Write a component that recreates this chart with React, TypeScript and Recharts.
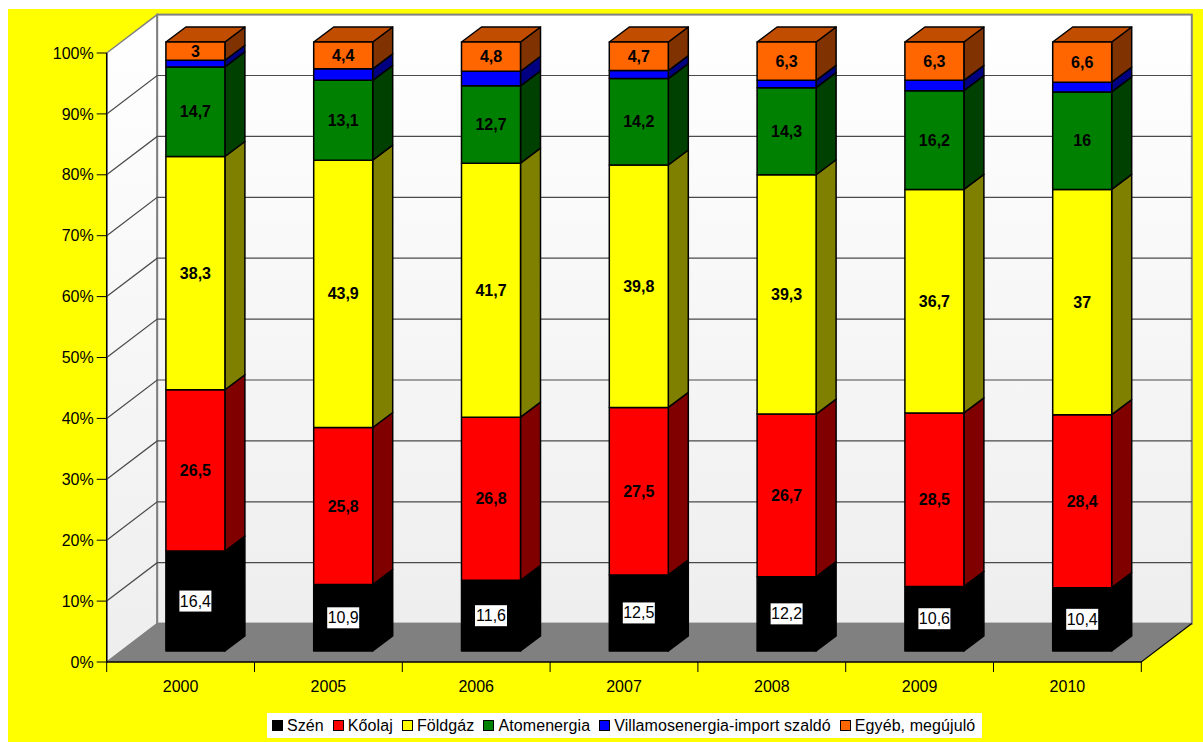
import React from "react";
import {
  BarChart,
  Bar,
  XAxis,
  YAxis,
  Legend,
  LabelList,
  ReferenceArea,
  ReferenceLine,
} from "recharts";

// Energy mix by year, pseudo-3D stacked columns
const years = ["2000", "2005", "2006", "2007", "2008", "2009", "2010"];
const szen = [16.4, 10.9, 11.6, 12.5, 12.2, 10.6, 10.4];
const koolaj = [26.5, 25.8, 26.8, 27.5, 26.7, 28.5, 28.4];
const foldgaz = [38.3, 43.9, 41.7, 39.8, 39.3, 36.7, 37];
const atom = [14.7, 13.1, 12.7, 14.2, 14.3, 16.2, 16];
const villamos = [1.1, 1.9, 2.4, 1.3, 1.2, 1.7, 1.6];
const egyeb = [3, 4.4, 4.8, 4.7, 6.3, 6.3, 6.6];
const yTicks = [0, 10, 20, 30, 40, 50, 60, 70, 80, 90, 100];
const gridValues = [10, 20, 30, 40, 50, 60, 70, 80, 90];

const data = years.map((year, i) => ({
  year,
  szen: szen[i],
  koolaj: koolaj[i],
  foldgaz: foldgaz[i],
  atom: atom[i],
  villamos: villamos[i],
  egyeb: egyeb[i],
}));

const FONT = '"Liberation Sans", Arial, sans-serif';
const CHART_W = 1195;
const CHART_H = 733;
const BAND = 1034.6 / years.length;

// depth of the room and of the columns
const WALL_DX = 50.5;
const WALL_DY = 38.4;
const BAR_DX = 20;
const BAR_DY = 15;
// columns stand a bit behind the front edge of the floor
const SHIFT_X = 15.2;
const SHIFT_Y = -11;

function Room({ x, y, width, height }: any) {
  const bottom = y + height;
  const right = x + width;
  return (
    <g>
      <defs>
        <linearGradient id="wall" x1="0" y1="0" x2="0" y2="1">
          <stop offset="0%" stopColor="#ffffff" />
          <stop offset="100%" stopColor="#eeeeee" />
        </linearGradient>
      </defs>
      <polygon
        points={`${x},${bottom} ${x},${y} ${x + WALL_DX},${y - WALL_DY} ${x + WALL_DX},${bottom - WALL_DY}`}
        fill="url(#wall)"
        stroke="#808080"
        strokeWidth={1.5}
      />
      <rect
        x={x + WALL_DX}
        y={y - WALL_DY}
        width={width}
        height={height}
        fill="url(#wall)"
        stroke="#808080"
        strokeWidth={2}
      />
      <polygon
        points={`${x},${bottom} ${x + WALL_DX},${bottom - WALL_DY} ${right + WALL_DX},${bottom - WALL_DY} ${right},${bottom}`}
        fill="#808080"
      />
      {/* the room hides the axis lines, so the front edges are drawn here */}
      <path
        d={`M${x},${y} L${x},${bottom} L${right},${bottom} L${right + WALL_DX},${bottom - WALL_DY}`}
        fill="none"
        stroke="#000"
        strokeWidth={1.2}
      />
    </g>
  );
}

function GridLine({ x1, y1, x2 }: any) {
  return (
    <path
      d={`M${x1},${y1} L${x1 + WALL_DX},${y1 - WALL_DY} L${x2 + WALL_DX},${y1 - WALL_DY}`}
      fill="none"
      stroke="#4a4a4a"
      strokeWidth={1.2}
    />
  );
}

function makeColumn(front: string, side: string, top?: string) {
  return function Column({ x, y, width, height }: any) {
    const fx = x + SHIFT_X;
    const fy = y + SHIFT_Y;
    const r = fx + width;
    const b = fy + height;
    return (
      <g stroke="#000" strokeWidth={1.5} strokeLinejoin="round">
        <polygon
          points={`${r},${fy} ${r + BAR_DX},${fy - BAR_DY} ${r + BAR_DX},${b - BAR_DY} ${r},${b}`}
          fill={side}
        />
        {top && (
          <polygon
            points={`${fx},${fy} ${fx + BAR_DX},${fy - BAR_DY} ${r + BAR_DX},${fy - BAR_DY} ${r},${fy}`}
            fill={top}
          />
        )}
        <rect x={fx} y={fy} width={width} height={height} fill={front} />
      </g>
    );
  };
}

function ValueLabel({ x, y, width, height, value, boxed }: any) {
  const cx = x + width / 2 + SHIFT_X;
  const cy = y + height / 2 + SHIFT_Y;
  const text = String(value).replace(".", ",");
  return (
    <g>
      {boxed && <rect x={cx - 16} y={cy - 10.5} width={32} height={21} fill="#fff" />}
      <text
        x={cx}
        y={cy + 5.5}
        textAnchor="middle"
        fontFamily={FONT}
        fontSize={16}
        fontWeight={boxed ? "normal" : "bold"}
        fill="#000"
      >
        {text}
      </text>
    </g>
  );
}

// ticks sit on the category borders, labels in the middle of the band
function YearTick({ x, y, payload, index }: any) {
  const left = x - BAND / 2;
  return (
    <g>
      <line x1={left} y1={y} x2={left} y2={y + 10} stroke="#000" />
      {index === years.length - 1 && (
        <line x1={left + BAND} y1={y} x2={left + BAND} y2={y + 10} stroke="#000" />
      )}
      <text
        x={x}
        y={y + 30}
        textAnchor="middle"
        fontFamily={FONT}
        fontSize={16}
        fill="#000"
      >
        {payload.value}
      </text>
    </g>
  );
}

function LegendBox({ payload }: any) {
  return (
    <div
      style={{
        background: "#fff",
        width: 715,
        height: 25,
        boxSizing: "border-box",
        paddingLeft: 5,
        display: "flex",
        alignItems: "center",
        whiteSpace: "nowrap",
        fontFamily: FONT,
        fontSize: 16,
        letterSpacing: 0.09,
        color: "#000",
      }}
    >
      {(payload || []).map((item: any) => (
        <span
          key={item.value}
          style={{ display: "inline-flex", alignItems: "center", marginRight: 9 }}
        >
          <span
            style={{
              display: "inline-block",
              width: 9,
              height: 9,
              background: item.color,
              border: "1px solid #000",
              marginRight: 4,
            }}
          />
          {item.value}
        </span>
      ))}
    </div>
  );
}

export default function App() {
  return (
    <div
      style={{
        position: "absolute",
        left: 8,
        top: 9,
        width: CHART_W,
        height: CHART_H,
        background: "#ffff00",
      }}
    >
      <BarChart
        width={CHART_W}
        height={CHART_H}
        data={data}
        barSize={59}
        margin={{ top: 44, right: 61.7, bottom: 50, left: 0 }}
      >
        <ReferenceArea x1="2000" x2="2010" y1={0} y2={100} shape={<Room />} />
        {gridValues.map((v) => (
          <ReferenceLine key={v} y={v} zIndex={150} shape={(p: any) => <GridLine {...p} />} />
        ))}
        <YAxis
          type="number"
          domain={[0, 100]}
          ticks={yTicks}
          width={98.7}
          tickSize={10}
          tickMargin={3}
          tickFormatter={(v: number) => `${v}%`}
          tick={{ fill: "#000", fontFamily: FONT, fontSize: 16 }}
          stroke="#000"
        />
        <XAxis
          dataKey="year"
          height={30}
          tickLine={false}
          tickSize={0}
          tickMargin={0}
          stroke="#000"
          interval={0}
          tick={<YearTick />}
        />
        <Legend
          layout="horizontal"
          align="center"
          verticalAlign="middle"
          itemSorter={null as any}
          wrapperStyle={{ left: 259, top: 704, width: 715, height: 25 }}
          content={<LegendBox />}
        />
        <Bar dataKey="szen" name="Szén" stackId="a" fill="#000000" isAnimationActive={false} shape={makeColumn("#000000", "#000000")}>
          <LabelList dataKey="szen" content={(p: any) => <ValueLabel {...p} boxed />} />
        </Bar>
        <Bar dataKey="koolaj" name="Kőolaj" stackId="a" fill="#ff0000" isAnimationActive={false} shape={makeColumn("#ff0000", "#800000")}>
          <LabelList dataKey="koolaj" content={(p: any) => <ValueLabel {...p} />} />
        </Bar>
        <Bar dataKey="foldgaz" name="Földgáz" stackId="a" fill="#ffff00" isAnimationActive={false} shape={makeColumn("#ffff00", "#808000")}>
          <LabelList dataKey="foldgaz" content={(p: any) => <ValueLabel {...p} />} />
        </Bar>
        <Bar dataKey="atom" name="Atomenergia" stackId="a" fill="#008000" isAnimationActive={false} shape={makeColumn("#008000", "#004000")}>
          <LabelList dataKey="atom" content={(p: any) => <ValueLabel {...p} />} />
        </Bar>
        <Bar dataKey="villamos" name="Villamosenergia-import szaldó" stackId="a" fill="#0000ff" isAnimationActive={false} shape={makeColumn("#0000ff", "#000080")} />
        <Bar dataKey="egyeb" name="Egyéb, megújuló" stackId="a" fill="#ff6600" isAnimationActive={false} shape={makeColumn("#ff6600", "#803300", "#c04d00")}>
          <LabelList dataKey="egyeb" content={(p: any) => <ValueLabel {...p} />} />
        </Bar>
      </BarChart>
    </div>
  );
}
